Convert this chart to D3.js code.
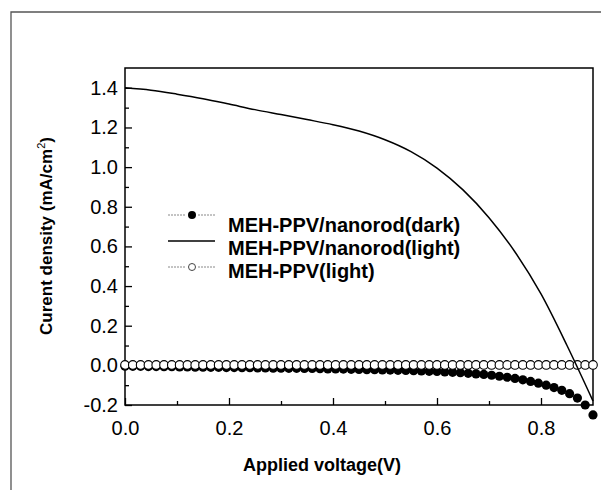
<!DOCTYPE html>
<meta charset="utf-8">
<style>
body { margin: 0; background: #fff; }
svg { font-family: "Liberation Sans", Arial, sans-serif; }
.tick text { font-size: 20px; fill: #000; }
.tick line { stroke: #000; stroke-width: 1.3; }
.ttl { font-size: 18px; font-weight: bold; }
.leg { font-size: 20px; font-weight: bold; }
</style>
<body>
<svg width="601" height="490"></svg>
<script src="https://d3js.org/d3.v7.min.js"></script>
<script>

// voltage for the marker series (V)
var vDots = [0.000,0.015,0.030,0.045,0.060,0.075,0.090,0.105,0.120,0.135,
             0.150,0.165,0.180,0.195,0.210,0.225,0.240,0.255,0.270,0.285,
             0.300,0.315,0.330,0.345,0.360,0.375,0.390,0.405,0.420,0.435,
             0.450,0.465,0.480,0.495,0.510,0.525,0.540,0.555,0.570,0.585,
             0.600,0.615,0.630,0.645,0.660,0.675,0.690,0.705,0.720,0.735,
             0.750,0.765,0.780,0.795,0.810,0.825,0.840,0.855,0.870,0.885,0.900];

// MEH-PPV/nanorod (dark)
var jDark = [-0.004,-0.005,-0.005,-0.006,-0.006,-0.007,-0.007,-0.008,-0.008,-0.009,
             -0.009,-0.010,-0.010,-0.011,-0.011,-0.012,-0.012,-0.013,-0.013,-0.014,
             -0.014,-0.015,-0.015,-0.016,-0.016,-0.017,-0.018,-0.018,-0.019,-0.020,
             -0.021,-0.022,-0.022,-0.023,-0.024,-0.025,-0.026,-0.027,-0.028,-0.030,
             -0.031,-0.033,-0.035,-0.037,-0.040,-0.043,-0.046,-0.050,-0.055,-0.060,
             -0.066,-0.073,-0.081,-0.090,-0.100,-0.112,-0.126,-0.143,-0.165,-0.200,-0.250];

// MEH-PPV (light)
var jPPV = [0.002,0.002,0.002,0.002,0.002,0.002,0.002,0.002,0.002,0.002,
            0.002,0.002,0.002,0.002,0.002,0.002,0.002,0.002,0.002,0.002,
            0.002,0.002,0.002,0.002,0.002,0.002,0.002,0.002,0.002,0.002,
            0.002,0.002,0.002,0.002,0.002,0.002,0.002,0.002,0.002,0.002,
            0.002,0.002,0.002,0.002,0.002,0.002,0.002,0.002,0.002,0.002,
            0.002,0.002,0.002,0.002,0.002,0.002,0.002,0.002,0.002,0.002,0.002];

// MEH-PPV/nanorod (light), solid line
var vLine = [0,0.05,0.10,0.15,0.20,0.25,0.30,0.35,0.40,0.45,0.50,0.55,0.60,0.65,0.70,0.75,0.80,0.85,0.90];
var jLight = [1.400,1.388,1.368,1.345,1.318,1.290,1.265,1.240,1.214,1.182,1.138,1.078,0.995,0.885,0.745,0.572,0.360,0.100,-0.180];

var xTicks = [0, 0.2, 0.4, 0.6, 0.8];
var xMinor = [0.1, 0.3, 0.5, 0.7];
var yTicks = [-0.2, 0, 0.2, 0.4, 0.6, 0.8, 1.0, 1.2, 1.4];
var yMinor = [-0.1, 0.1, 0.3, 0.5, 0.7, 0.9, 1.1, 1.3];

var legendNames = ["MEH-PPV/nanorod(dark)", "MEH-PPV/nanorod(light)", "MEH-PPV(light)"];

var svg = d3.select("svg");
var margin = {left: 125, top: 68, right: 8, bottom: 85};
var width = 601 - margin.left - margin.right,
    height = 490 - margin.top - margin.bottom;

// scan border
svg.append("path")
    .attr("d", "M11,490V12H601")
    .attr("fill", "none")
    .attr("stroke", "#555")
    .attr("stroke-width", 1.3);

var x = d3.scaleLinear().domain([0, 0.9]).range([0, width]);
var y = d3.scaleLinear().domain([-0.2, 1.5]).range([height, 0]);

var g = svg.append("g")
    .attr("transform", "translate(" + margin.left + "," + margin.top + ")");

var fmt = function(d) { return d.toFixed(1); };

g.append("g")
    .attr("transform", "translate(0," + height + ")")
    .call(d3.axisBottom(x).tickValues(xTicks).tickSize(-7).tickPadding(16).tickFormat(fmt))
    .call(function(a) { a.select(".domain").remove(); });
g.append("g")
    .attr("transform", "translate(0," + height + ")")
    .call(d3.axisBottom(x).tickValues(xMinor).tickSize(-4).tickFormat(""))
    .call(function(a) { a.select(".domain").remove(); });

g.append("g")
    .call(d3.axisLeft(y).tickValues(yTicks).tickSize(-7).tickPadding(7).tickFormat(fmt))
    .call(function(a) { a.select(".domain").remove(); });
g.append("g")
    .call(d3.axisLeft(y).tickValues(yMinor).tickSize(-4).tickFormat(""))
    .call(function(a) { a.select(".domain").remove(); });

g.selectAll(".tick text").attr("font-family", null).attr("font-size", null);

g.append("rect")
    .attr("width", width)
    .attr("height", height)
    .attr("fill", "none")
    .attr("stroke", "#000")
    .attr("stroke-width", 1.5);

// dark series
g.append("g").selectAll("circle")
    .data(d3.range(vDots.length))
    .enter().append("circle")
    .attr("cx", function(i) { return x(vDots[i]); })
    .attr("cy", function(i) { return y(jDark[i]); })
    .attr("r", 4.6)
    .attr("fill", "#000");

// PPV light series
g.append("g").selectAll("circle")
    .data(d3.range(vDots.length))
    .enter().append("circle")
    .attr("cx", function(i) { return x(vDots[i]); })
    .attr("cy", function(i) { return y(jPPV[i]); })
    .attr("r", 4.3)
    .attr("fill", "#fff")
    .attr("stroke", "#000")
    .attr("stroke-width", 1.1);

// nanorod light line
var line = d3.line()
    .x(function(i) { return x(vLine[i]); })
    .y(function(i) { return y(jLight[i]); })
    .curve(d3.curveMonotoneX);

g.append("path")
    .datum(d3.range(vLine.length))
    .attr("d", line)
    .attr("fill", "none")
    .attr("stroke", "#000")
    .attr("stroke-width", 1.5);

// legend
var legSymY = [215, 241, 267];
var legTextY = [232, 255, 278];
var leg = svg.append("g");
legendNames.forEach(function(name, i) {
    if (i == 1) {
        leg.append("line")
            .attr("x1", 168).attr("x2", 215)
            .attr("y1", legSymY[i]).attr("y2", legSymY[i])
            .attr("stroke", "#000").attr("stroke-width", 1.6);
    } else {
        [[168, 186], [198, 215]].forEach(function(s) {
            leg.append("line")
                .attr("x1", s[0]).attr("x2", s[1])
                .attr("y1", legSymY[i]).attr("y2", legSymY[i])
                .attr("stroke", "#888").attr("stroke-width", 1)
                .attr("stroke-dasharray", "2,1");
        });
        leg.append("circle")
            .attr("cx", 192).attr("cy", legSymY[i])
            .attr("r", i == 0 ? 4 : 3.5)
            .attr("fill", i == 0 ? "#000" : "#fff")
            .attr("stroke", i == 0 ? "none" : "#444")
            .attr("stroke-width", 1);
    }
    leg.append("text")
        .attr("class", "leg")
        .attr("x", 228)
        .attr("y", legTextY[i])
        .text(name);
});

// axis titles
svg.append("text")
    .attr("class", "ttl")
    .attr("x", 322)
    .attr("y", 471)
    .attr("text-anchor", "middle")
    .text("Applied voltage(V)");

var yt = svg.append("text")
    .attr("class", "ttl")
    .attr("font-size", "17px")
    .attr("text-anchor", "middle")
    .attr("transform", "translate(52,236) rotate(-90)");
yt.append("tspan").attr("font-size", "17px").text("Curent density (mA/cm");
yt.append("tspan").attr("font-size", "11px").attr("font-weight", "normal").attr("dy", "-7").text("2");
yt.append("tspan").attr("font-size", "17px").attr("dy", "7").text(")");

</script>
</body>
